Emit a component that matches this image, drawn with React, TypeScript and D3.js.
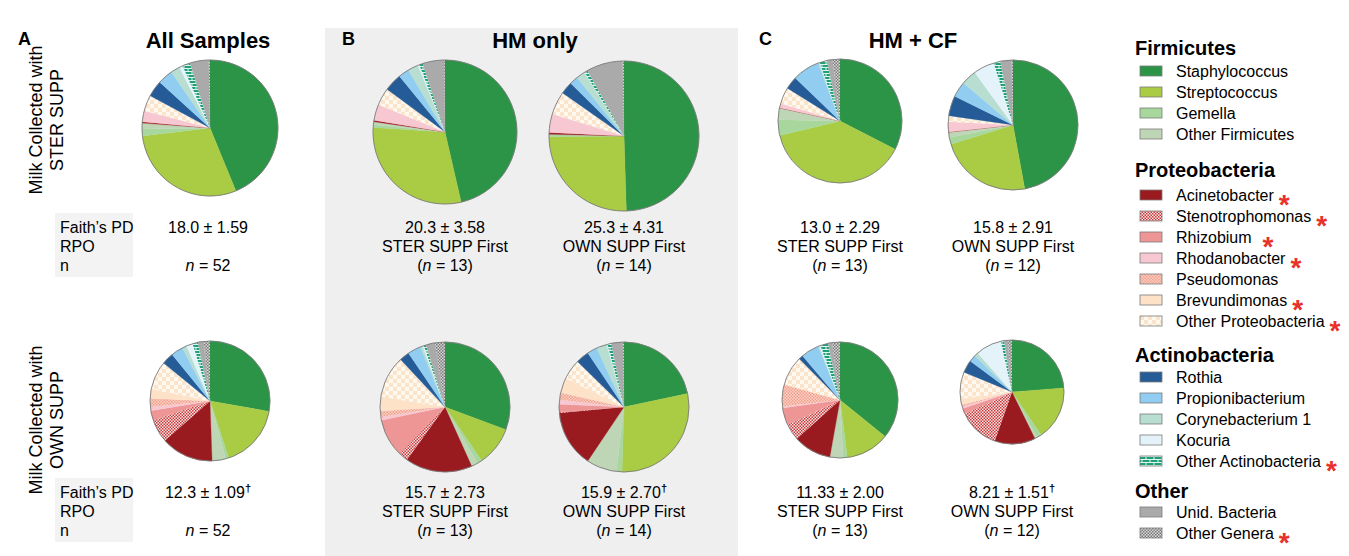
import React from 'react';
import * as d3 from 'd3';

// ---------- DATA ----------
const genera = [
  'Staphylococcus', 'Streptococcus', 'Gemella', 'Other Firmicutes',
  'Acinetobacter', 'Stenotrophomonas', 'Rhizobium', 'Rhodanobacter', 'Pseudomonas', 'Brevundimonas', 'Other Proteobacteria',
  'Rothia', 'Propionibacterium', 'Corynebacterium 1', 'Kocuria', 'Other Actinobacteria',
  'Unid. Bacteria', 'Other Genera',
];
const phyla = ['Firmicutes', 'Proteobacteria', 'Actinobacteria', 'Other'];
const phylumOf = [0, 0, 0, 0, 1, 1, 1, 1, 1, 1, 1, 2, 2, 2, 2, 2, 3, 3];
const starred = [false, false, false, false, true, true, true, true, false, true, true, false, false, false, false, true, false, true];

// relative abundance (%) per genus, in the order of `genera`
const allSter = [43.7, 29.3, 1.6, 1.4, 0.3, 0, 0, 2.6, 0, 0, 3.8, 3.9, 3.6, 2.2, 0.8, 1.9, 4.4, 0.3];
const allOwn = [27.8, 17.2, 0.8, 3.7, 14.1, 6.3, 2.6, 1.0, 2.3, 2.5, 7.7, 3.2, 3.3, 1.2, 1.7, 1.5, 1.5, 1.7];
const hmSterFirstSter = [46.4, 29.6, 0.6, 0.7, 0.3, 0, 0, 3.6, 0, 0, 3.9, 4.0, 2.4, 2.4, 0.3, 0.8, 4.8, 0.2];
const hmOwnFirstSter = [49.6, 25.4, 0.4, 0.1, 0.4, 0, 0, 4.0, 0, 0, 5.0, 2.7, 1.8, 1.9, 0.1, 0.7, 7.8, 0.3];
const hmSterFirstOwn = [30.7, 9.8, 1.2, 1.6, 16.7, 2.4, 9.4, 0.8, 1.5, 3.5, 10.5, 2.5, 3.3, 0.6, 0.3, 0.6, 2.2, 2.5];
const hmOwnFirstOwn = [21.7, 28.8, 1.4, 7.5, 14.1, 0.3, 1.9, 1.1, 1.8, 3.6, 5.1, 3.3, 2.5, 2.6, 0.2, 1.0, 2.8, 0.3];
const cfSterFirstSter = [32.5, 38.6, 4.1, 3.0, 0.1, 0, 0, 1.1, 0, 0, 4.3, 3.3, 7.1, 0.3, 0.1, 1.9, 1.5, 1.9];
const cfOwnFirstSter = [47.1, 23.1, 1.7, 1.3, 0.1, 0, 0, 2.5, 0, 0, 1.5, 5.0, 3.9, 3.8, 5.2, 1.7, 2.7, 0.4];
const cfSterFirstOwn = [35.8, 12.2, 1.1, 3.7, 10.6, 4.6, 4.8, 0.4, 6.1, 0.2, 8.1, 1.2, 5.1, 0.3, 0.3, 2.2, 1.1, 2.2];
const cfOwnFirstOwn = [23.8, 16.8, 1.4, 0.8, 12.7, 12.8, 1.7, 0.6, 0.6, 1.8, 8.4, 3.9, 2.2, 1.2, 8.0, 1.1, 1.1, 1.3];

const faithPD = ['18.0 ± 1.59', '12.3 ± 1.09', '20.3 ± 3.58', '25.3 ± 4.31', '15.7 ± 2.73', '15.9 ± 2.70', '13.0 ± 2.29', '15.8 ± 2.91', '11.33 ± 2.00', '8.21 ± 1.51'];
const dagger = [false, true, false, false, false, true, false, false, false, true];
const groupLabel = ['', '', 'STER SUPP First', 'OWN SUPP First', 'STER SUPP First', 'OWN SUPP First', 'STER SUPP First', 'OWN SUPP First', 'STER SUPP First', 'OWN SUPP First'];
const nValues = [52, 52, 13, 14, 13, 14, 13, 12, 13, 12];

// ---------- STYLE / LAYOUT ----------
const fills = [
  '#2c9447', '#a9cc44', '#a7d79c', '#bed5b6',
  '#9a1b1f', 'url(#pSteno)', '#ee9596', '#f7c8d1', 'url(#pPseudo)', '#fde2c8', 'url(#pOtherProteo)',
  '#255b97', '#90cdf0', '#b7ded1', '#e4f3f9', 'url(#pOtherActino)',
  '#aaaaaa', 'url(#pOtherGenera)',
];
const series = [allSter, allOwn, hmSterFirstSter, hmOwnFirstSter, hmSterFirstOwn, hmOwnFirstOwn, cfSterFirstSter, cfOwnFirstSter, cfSterFirstOwn, cfOwnFirstOwn];
const layout = [
  { cx: 210, cy: 128, r: 68 },
  { cx: 210, cy: 401, r: 60 },
  { cx: 445, cy: 132, r: 72 },
  { cx: 624, cy: 136, r: 75 },
  { cx: 445, cy: 407, r: 65 },
  { cx: 624, cy: 407, r: 65 },
  { cx: 840, cy: 121, r: 62 },
  { cx: 1013, cy: 125, r: 65 },
  { cx: 840, cy: 400, r: 58 },
  { cx: 1012, cy: 392, r: 52 },
];
const headerBaselines = [55, 177, 362, 498];
const firstItemOffset = [16, 18, 15, 14];
const FONT = '"Liberation Sans", Arial, Helvetica, sans-serif';

const pieGen = d3.pie<number>().sort(null).value((d) => d);

function Pie({ values, cx, cy, r }: { values: number[]; cx: number; cy: number; r: number }) {
  const arcs = pieGen(values);
  const arc = d3.arc<d3.PieArcDatum<number>>().innerRadius(0).outerRadius(r);
  return (
    <g transform={`translate(${cx},${cy})`}>
      {arcs.map((a, i) => (a.value > 0 ? <path key={i} d={arc(a) || ''} fill={fills[i]} stroke={fills[i].startsWith('url') ? 'none' : fills[i]} strokeWidth={0.3} /> : null))}
      <circle r={r} fill="none" stroke="#7a7a7a" strokeWidth={0.9} />
    </g>
  );
}

export default function App() {
  const legendX = 1135;
  const legendRows: { kind: 'h' | 'i'; idx: number; y: number }[] = [];
  phyla.forEach((p, pi) => {
    legendRows.push({ kind: 'h', idx: pi, y: headerBaselines[pi] });
    let k = 0;
    genera.forEach((g, gi) => {
      if (phylumOf[gi] === pi) {
        legendRows.push({ kind: 'i', idx: gi, y: headerBaselines[pi] + firstItemOffset[pi] + k * 21 });
        k++;
      }
    });
  });

  return (
    <svg width={1349} height={556} style={{ position: 'absolute', left: 0, top: 0, background: '#fff' }} fontFamily={FONT}>
      <defs>
        <pattern id="pSteno" width={3} height={3} patternUnits="userSpaceOnUse">
          <rect width={3} height={3} fill="#fbe3e3" />
          <rect width={1.5} height={1.5} fill="#c8393b" />
          <rect x={1.5} y={1.5} width={1.5} height={1.5} fill="#c8393b" />
        </pattern>
        <pattern id="pPseudo" width={3} height={3} patternUnits="userSpaceOnUse">
          <rect width={3} height={3} fill="#fbd3c6" />
          <rect width={1.5} height={1.5} fill="#f19f8c" />
          <rect x={1.5} y={1.5} width={1.5} height={1.5} fill="#f19f8c" />
        </pattern>
        <pattern id="pOtherProteo" width={8} height={8} patternUnits="userSpaceOnUse">
          <rect width={8} height={8} fill="#fff8ee" />
          <rect width={4} height={4} fill="#fbe4cc" />
          <rect x={4} y={4} width={4} height={4} fill="#fbe4cc" />
        </pattern>
        <pattern id="pOtherActino" width={8} height={6} patternUnits="userSpaceOnUse">
          <rect width={8} height={6} fill="#1fa079" />
          <line x1={0} y1={0.5} x2={8} y2={0.5} stroke="#dff4ec" strokeWidth={1} />
          <line x1={0} y1={3.5} x2={8} y2={3.5} stroke="#dff4ec" strokeWidth={1} />
          <line x1={2} y1={0} x2={2} y2={3} stroke="#dff4ec" strokeWidth={1} />
          <line x1={6} y1={3} x2={6} y2={6} stroke="#dff4ec" strokeWidth={1} />
        </pattern>
        <pattern id="pOtherGenera" width={3} height={3} patternUnits="userSpaceOnUse">
          <rect width={3} height={3} fill="#d6d6d6" />
          <rect width={1.5} height={1.5} fill="#7a7a7a" />
          <rect x={1.5} y={1.5} width={1.5} height={1.5} fill="#7a7a7a" />
        </pattern>
      </defs>

      {/* Panel B background */}
      <rect x={325} y={28} width={413} height={528} fill="#efeff0" />

      {/* Panel letters + titles */}
      <text x={18} y={45} fontSize={18} fontWeight="bold">A</text>
      <text x={342} y={45} fontSize={18} fontWeight="bold">B</text>
      <text x={759} y={45} fontSize={18} fontWeight="bold">C</text>
      <text x={208} y={48} fontSize={22} fontWeight="bold" textAnchor="middle">All Samples</text>
      <text x={535} y={48} fontSize={22} fontWeight="bold" textAnchor="middle">HM only</text>
      <text x={913} y={48} fontSize={22} fontWeight="bold" textAnchor="middle">HM + CF</text>

      {/* Row labels */}
      <g transform="translate(42,120) rotate(-90)">
        <text x={0} y={0} fontSize={18} textAnchor="middle">Milk Collected with</text>
        <text x={0} y={21} fontSize={18} textAnchor="middle">STER SUPP</text>
      </g>
      <g transform="translate(42,420) rotate(-90)">
        <text x={0} y={0} fontSize={18} textAnchor="middle">Milk Collected with</text>
        <text x={0} y={21} fontSize={18} textAnchor="middle">OWN SUPP</text>
      </g>

      {/* Pies */}
      {series.map((s, i) => (
        <Pie key={i} values={s} {...layout[i]} />
      ))}

      {/* Stats under pies */}
      {series.map((_, i) => {
        const isTopRow = i === 0 || i === 2 || i === 3 || i === 6 || i === 7;
        const baseY = isTopRow ? 233 : 498;
        const cx = i < 2 ? 208 : layout[i].cx;
        return (
          <g key={i} fontSize={16} textAnchor="middle">
            <text x={cx} y={baseY}>
              {faithPD[i]}
              {dagger[i] ? <tspan fontSize={11} dy={-6} fontWeight="bold">†</tspan> : null}
            </text>
            {i >= 2 ? (
              <>
                <text x={cx} y={baseY + 19}>{groupLabel[i]}</text>
                <text x={cx} y={baseY + 38}>(<tspan fontStyle="italic">n</tspan> = {nValues[i]})</text>
              </>
            ) : (
              <text x={cx} y={baseY + 38}><tspan fontStyle="italic">n</tspan> = {nValues[i]}</text>
            )}
          </g>
        );
      })}

      {/* Faith's PD side labels for panel A */}
      {[233, 498].map((by, k) => (
        <g key={k} fontSize={16}>
          <rect x={55} y={by - 20} width={78} height={64} fill="#f3f3f3" />
          <text x={60} y={by}>Faith’s PD</text>
          <text x={60} y={by + 19}>RPO</text>
          <text x={60} y={by + 38}>n</text>
        </g>
      ))}

      {/* Legend */}
      {legendRows.map((row, k) =>
        row.kind === 'h' ? (
          <text key={k} x={legendX} y={row.y} fontSize={20} fontWeight="bold">{phyla[row.idx]}</text>
        ) : (
          <g key={k}>
            <rect x={legendX + 5} y={row.y - 5} width={22} height={10} fill={fills[row.idx]} stroke="#7a7a7a" strokeWidth={0.8} />
            <text x={legendX + 41} y={row.y + 5.5} fontSize={16}>
              {genera[row.idx]}
              {starred[row.idx] ? (
                <tspan dx={row.idx === 6 ? 11 : 5} dy={13} fontSize={28} fontWeight="bold" fill="#e8312a">*</tspan>
              ) : null}
            </text>
          </g>
        )
      )}
    </svg>
  );
}
